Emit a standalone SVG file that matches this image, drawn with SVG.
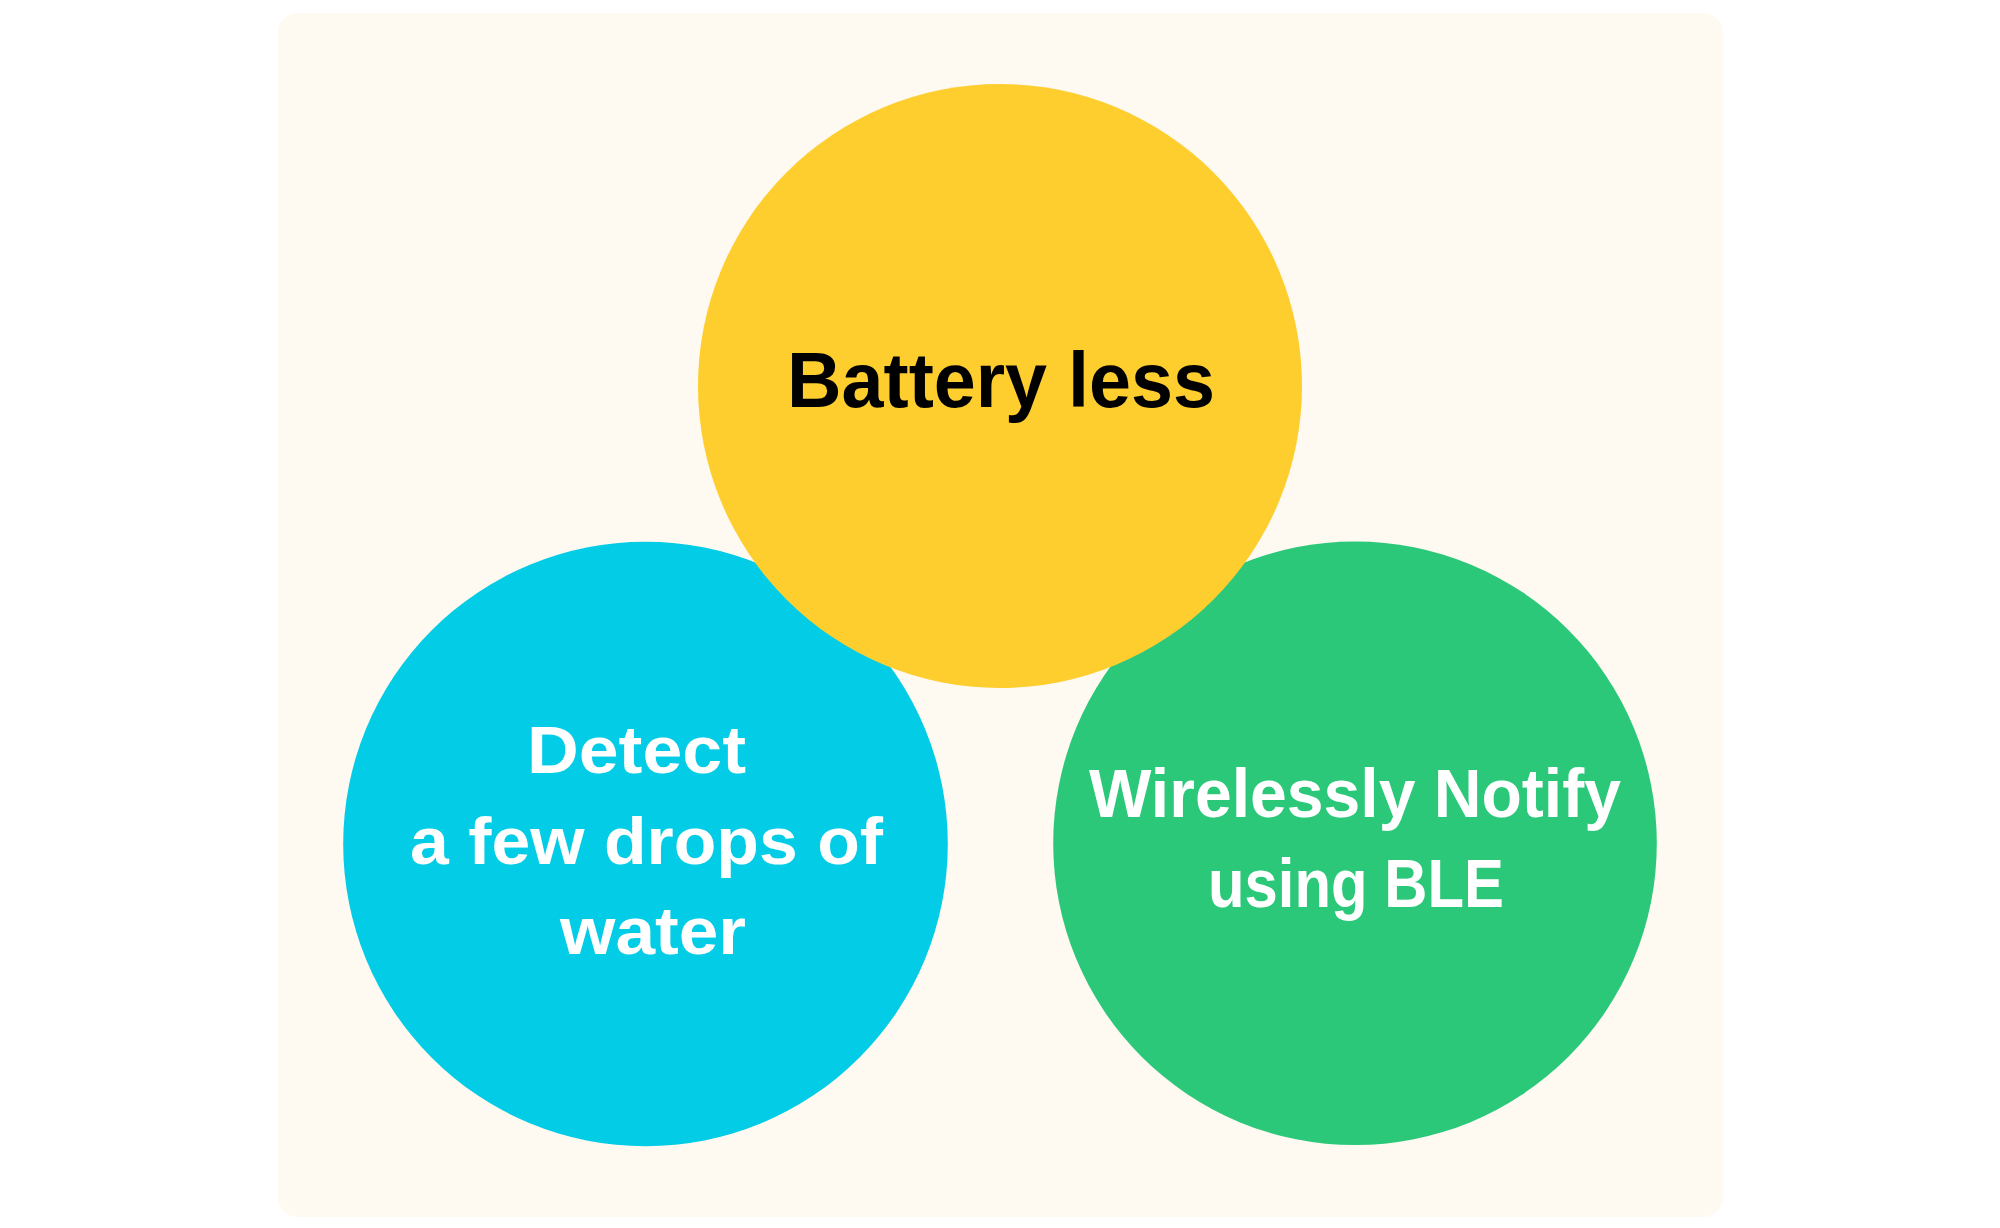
<svg xmlns="http://www.w3.org/2000/svg" width="2000" height="1228" viewBox="0 0 2000 1228">
<style>
.lbl{font-family:"Liberation Sans",Arial,sans-serif;font-weight:bold;text-anchor:middle}
.w{fill:#FFFFFF}
.k{fill:#000000}
</style>
<rect x="0" y="0" width="2000" height="1228" fill="#FFFFFF"/>
<rect id="panel" x="278" y="13" width="1445" height="1204" rx="20" ry="20" fill="#FEF9F1"/>
<g id="node-detect">
<circle cx="645.5" cy="844" r="302.3" fill="#03CCE6"/>
<text class="lbl w" font-size="67" x="636.5" y="772.7" textLength="219" lengthAdjust="spacingAndGlyphs">Detect</text>
<text class="lbl w" font-size="67" x="646.5" y="864" textLength="473" lengthAdjust="spacingAndGlyphs">a few drops of</text>
<text class="lbl w" font-size="67" x="653" y="954" textLength="186" lengthAdjust="spacingAndGlyphs">water</text>
</g>
<g id="node-notify">
<circle cx="1355" cy="843.3" r="301.8" fill="#2BC87A"/>
<text class="lbl w" font-size="69" x="1355" y="816.7" textLength="532" lengthAdjust="spacingAndGlyphs">Wirelessly Notify</text>
<text class="lbl w" font-size="69" x="1356" y="907" textLength="296" lengthAdjust="spacingAndGlyphs">using BLE</text>
</g>
<g id="node-battery">
<circle cx="1000" cy="386" r="302" fill="#FECE2F"/>
<text class="lbl k" font-size="78" x="1001" y="407" textLength="428" lengthAdjust="spacingAndGlyphs">Battery less</text>
</g>
<g id="connectors"></g>
</svg>
